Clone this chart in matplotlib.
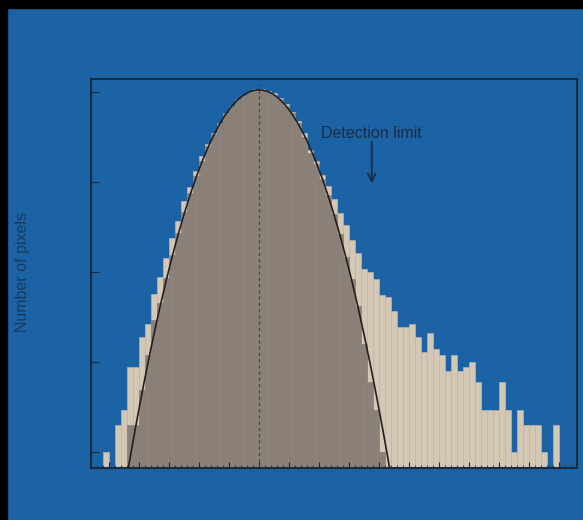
import numpy as np
import matplotlib.pyplot as plt
from matplotlib.patches import Rectangle
from matplotlib.ticker import MultipleLocator, NullLocator

# histogram bins (in units of the noise sigma)
bin_start = -5.2
bin_width = 0.2

# all pixels (light bars), bins from -5.2 to 10.0
total_counts = [
    1, 0, 2, 3, 9, 9, 19, 27, 58, 88,
    144, 244, 373, 623, 898, 1342, 1945, 2679, 3522, 4617,
    5875, 6950, 8110, 9210, 10200, 11070, 11070, 10520, 9750, 8690,
    7450, 6070, 4820, 3550, 2300, 1755, 1211, 914, 664, 458,
    337, 230, 165, 109, 101, 84, 56, 53, 37, 25,
    25, 27, 19, 13, 21, 14, 12, 8, 12, 8,
    9, 10, 6, 3, 3, 3, 6, 3, 1, 3,
    2, 2, 2, 1, 0, 2,
]

# noise only pixels (dark bars)
noise_counts = [
    0, 0, 0, 0, 2, 2, 5, 12, 30, 46,
    87, 158, 277, 467, 755, 1175, 1754, 2518, 3467, 4592,
    5848, 7145, 8375, 9462, 10230, 10660, 10660, 10230, 9462, 8375,
    7145, 5848, 4592, 3200, 2100, 1600, 1100, 720, 450, 270,
    150, 85, 42, 16, 6, 3, 1, 0, 0, 0,
    0, 0, 0, 0, 0, 0, 0, 0, 0, 0,
    0, 0, 0, 0, 0, 0, 0, 0, 0, 0,
    0, 0, 0, 0, 0, 0,
]

# gaussian fit of the noise
gauss_peak = 10700
gauss_center = 0.0
gauss_sigma = 0.99

# detection limit marker
detect_x = 3.76

bg = '#1b63a4'
frame = '#1b2b3e'
beige = '#d5c7b6'
dark = '#8b8179'

plt.rcParams['font.family'] = ['Liberation Sans', 'DejaVu Sans']

fig = plt.figure(figsize=(5.83, 5.20), dpi=100, facecolor=bg)
ax = fig.add_axes([91 / 583, 1 - 467.7 / 520, 486.5 / 583, 388.7 / 520])
ax.set_facecolor(bg)

lefts = bin_start + bin_width * np.arange(len(total_counts))
tot = np.array(total_counts, dtype=float)
noi = np.array(noise_counts, dtype=float)
m = tot > 0
ax.bar(lefts[m], tot[m], width=bin_width, align='edge', bottom=1e-3,
       color=beige, edgecolor='#c9baa9', linewidth=0.4, zorder=1)
m = noi > 0
ax.bar(lefts[m], noi[m], width=bin_width, align='edge', bottom=1e-3,
       color=dark, edgecolor='#857b73', linewidth=0.4, zorder=1.1)

xs = np.linspace(-5.5, 5.5, 600)
ys = gauss_peak * np.exp(-(xs - gauss_center) ** 2 / (2 * gauss_sigma ** 2))
ax.plot(xs, ys, color='#231f20', lw=1.2, zorder=3)

ax.axvline(gauss_center, color='#4a4540', lw=0.9, ls=(0, (2.5, 2.5)), zorder=2.5)

ax.set_yscale('log')
ax.set_xlim(-5.6, 10.62)
ax.set_ylim(10 ** -0.169, 10 ** 4.15)

ax.xaxis.set_major_locator(MultipleLocator(1))
ax.xaxis.set_minor_locator(MultipleLocator(0.2))
ax.yaxis.set_minor_locator(NullLocator())
ax.tick_params(axis='x', which='major', direction='in', length=4, width=0.8,
               color=frame, labelbottom=False, top=False)
ax.tick_params(axis='x', which='minor', direction='in', length=2, width=0.6,
               color=frame, top=False)
ax.tick_params(axis='y', which='major', direction='in', length=6, width=0.8,
               color=frame, labelleft=False, right=False)
for s in ax.spines.values():
    s.set_color(frame)
    s.set_linewidth(1.5)

ax.text(detect_x, 3119, 'Detection limit', ha='center', va='baseline',
        fontsize=11.5, color='#1a2d45')
ax.annotate('', xy=(detect_x, 980), xytext=(detect_x, 2840),
            arrowprops=dict(arrowstyle='->', color='#1a2d45', lw=1.3,
                            shrinkA=0, shrinkB=0, mutation_scale=14))

fig.text(22.5 / 583, 1 - 272.5 / 520, 'Number of pixels', rotation=90,
         ha='center', va='center', fontsize=11.5, color='#1d3a5c')

# dark border of the slide photo
fig.add_artist(Rectangle((0, 1 - 8 / 520), 1, 8 / 520, transform=fig.transFigure,
                         color='black', zorder=10))
fig.add_artist(Rectangle((0, 0), 7 / 583, 1, transform=fig.transFigure,
                         color='black', zorder=10))

fig.savefig('out.png', dpi=100, facecolor=bg)
